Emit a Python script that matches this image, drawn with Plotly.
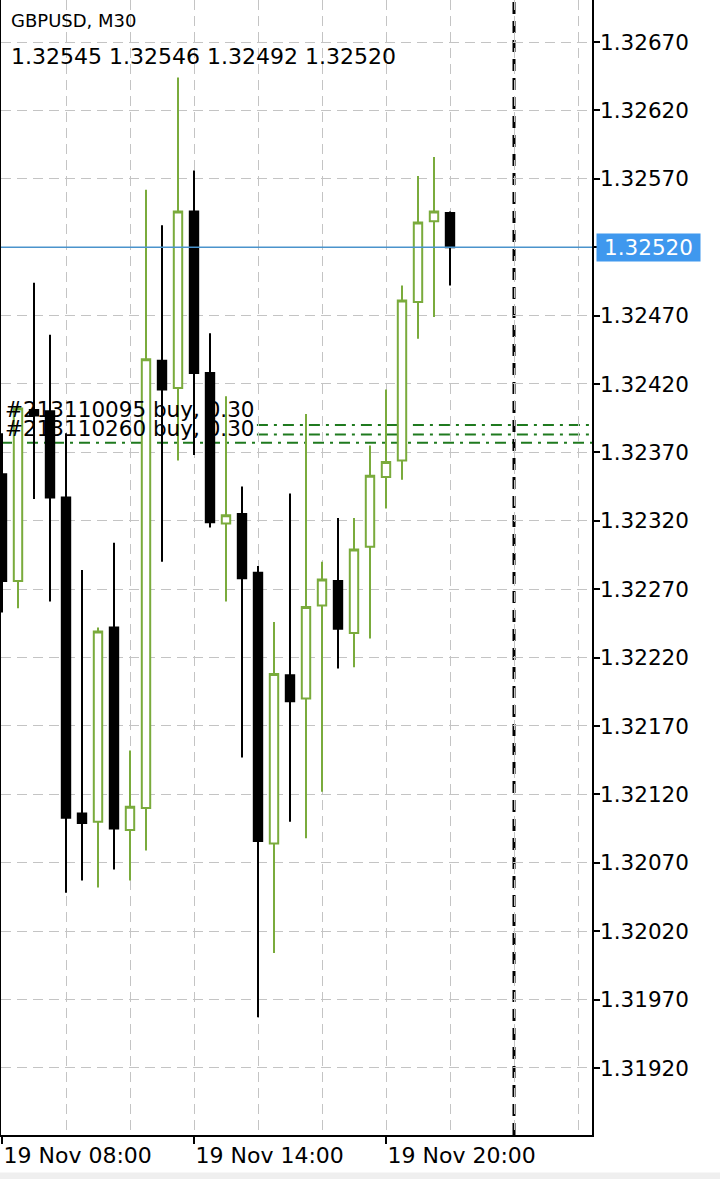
import plotly.graph_objects as go

# GBPUSD M30, bar 0 = 19 Nov 08:00, one bar every 30 minutes
bar_idx = list(range(29))
open_ = [1.32354, 1.32276, 1.32401, 1.32400, 1.32337, 1.32106, 1.32100, 1.32242, 1.32094, 1.32110,
         1.32437, 1.32417, 1.32546, 1.32428, 1.32318, 1.32325, 1.32282, 1.32084, 1.32207, 1.32190,
         1.32258, 1.32276, 1.32238, 1.32301, 1.32352, 1.32364, 1.32480, 1.32539, 1.32545]
high = [1.32384, 1.32404, 1.32494, 1.32456, 1.32384, 1.32284, 1.32242, 1.32304, 1.32152, 1.32562,
        1.32536, 1.32644, 1.32576, 1.32457, 1.32411, 1.32345, 1.32287, 1.32246, 1.32340, 1.32398,
        1.32290, 1.32322, 1.32322, 1.32375, 1.32416, 1.32492, 1.32572, 1.32586, 1.32546]
low = [1.32253, 1.32256, 1.32336, 1.32261, 1.32048, 1.32057, 1.32052, 1.32065, 1.32057, 1.32079,
       1.32290, 1.32364, 1.32368, 1.32315, 1.32261, 1.32147, 1.31957, 1.32004, 1.32100, 1.32088,
       1.32122, 1.32212, 1.32213, 1.32234, 1.32329, 1.32350, 1.32453, 1.32469, 1.32492]
close = [1.32276, 1.32402, 1.32397, 1.32337, 1.32103, 1.32099, 1.32239, 1.32095, 1.32111, 1.32438,
         1.32416, 1.32546, 1.32428, 1.32319, 1.32324, 1.32278, 1.32086, 1.32208, 1.32188, 1.32257,
         1.32277, 1.32241, 1.32299, 1.32353, 1.32363, 1.32481, 1.32538, 1.32546, 1.32520]

price_ticks = [1.31920, 1.31970, 1.32020, 1.32070, 1.32120, 1.32170, 1.32220, 1.32270,
               1.32320, 1.32370, 1.32420, 1.32470, 1.32520, 1.32570, 1.32620, 1.32670]
time_ticks = [0, 12, 24]
time_labels = ['19 Nov 08:00', '19 Nov 14:00', '19 Nov 20:00']
grid_ticks = [4, 8, 16, 20, 28, 32, 36]

bid = 1.32520
day_sep = 32
order_labels = ['#213110095 buy, 0.30', '#213110260 buy, 0.30']
order_prices = [1.32390, 1.32383]
avg_price = 1.32377

GREEN = '#7aab3c'
FONT = 'DejaVu Sans'

fig = go.Figure()

fig.add_trace(go.Candlestick(
    x=bar_idx, open=open_, high=high, low=low, close=close,
    increasing=dict(line=dict(color=GREEN, width=2), fillcolor='white'),
    decreasing=dict(line=dict(color='black', width=2), fillcolor='black'),
    whiskerwidth=0, showlegend=False, hoverinfo='skip'))

shapes = []
for p in order_prices:
    shapes.append(dict(type='line', xref='paper', x0=0.433, x1=1, yref='y', y0=p, y1=p,
                       line=dict(color='#1f7a1f', width=2, dash='11px,6px,3px,6px'),
                       layer='between'))
shapes.append(dict(type='line', xref='paper', x0=0, x1=1, yref='y', y0=avg_price, y1=avg_price,
                   line=dict(color='#1f7a1f', width=2, dash='11px,6px,3px,6px'),
                   layer='between'))
shapes.append(dict(type='line', xref='x', x0=day_sep, x1=day_sep, yref='paper', y0=0, y1=1,
                   line=dict(color='black', width=3, dash='12px,7px'), layer='between'))
shapes.append(dict(type='line', xref='paper', x0=0, x1=1, yref='y', y0=bid, y1=bid,
                   line=dict(color='#4a93cc', width=1.5), layer='above'))
shapes.append(dict(type='rect', xref='paper', x0=-0.01, x1=1.3, yref='paper', y0=-0.033, y1=-0.05,
                   fillcolor='#efefef', line=dict(width=0), layer='below'))

annotations = [
    dict(text='GBPUSD, M30', xref='paper', yref='paper', x=0, y=1, xanchor='left', yanchor='top',
         xshift=8, yshift=-8, showarrow=False, font=dict(family=FONT, size=18, color='black')),
    dict(text=' '.join(f'{v:.5f}' for v in (open_[-1], high[-1], low[-1], close[-1])),
         xref='paper', yref='paper', x=0, y=1, xanchor='left', yanchor='top',
         xshift=8, yshift=-42, showarrow=False, font=dict(family=FONT, size=22, color='black')),
    dict(text=f'{bid:.5f}', xref='paper', yref='y', x=1, y=bid, xanchor='left', yanchor='middle',
         xshift=4, showarrow=False, bgcolor='#3f98ee', width=101, height=25, borderpad=1,
         font=dict(family=FONT, size=21.5, color='white')),
]
for i, (lab, p) in enumerate(zip(order_labels, order_prices)):
    annotations.append(dict(text=lab, xref='paper', yref='paper', x=0, y=1 - (409 + 19 * i) / 1135,
                            xanchor='left', yanchor='middle', xshift=2, showarrow=False,
                            font=dict(family=FONT, size=21.5, color='black')))

fig.update_layout(
    width=720, height=1179,
    margin=dict(l=1, r=128, t=0, b=44),
    paper_bgcolor='white', plot_bgcolor='white',
    boxgap=0.25, boxgroupgap=0.3,
    shapes=shapes, annotations=annotations,
    showlegend=False,
    xaxis=dict(
        range=[-0.0625, 36.875], rangeslider=dict(visible=False),
        tickvals=time_ticks, ticktext=time_labels, ticklabelposition='outside right',
        ticks='outside', ticklen=7, tickwidth=1.5, tickcolor='black',
        tickfont=dict(family=FONT, size=22, color='black'),
        showline=True, linecolor='black', linewidth=1.5,
        showgrid=True, gridcolor='#c4c4c4', gridwidth=1, griddash='10px,6px',
        minor=dict(tickvals=grid_ticks, showgrid=True, gridcolor='#c4c4c4', gridwidth=1,
                   griddash='10px,6px', ticks=''),
        zeroline=False, fixedrange=True),
    yaxis=dict(
        side='right', range=[1.318710, 1.327007],
        tickvals=price_ticks,
        ticktext=['' if abs(v - bid) < 1e-7 else f'{v:.5f}' for v in price_ticks],
        ticks='outside', ticklen=6, tickwidth=1.5, tickcolor='black', ticklabelstandoff=-4,
        tickfont=dict(family=FONT, size=21.5, color='black'),
        showline=True, linecolor='black', linewidth=1.5, mirror=True,
        showgrid=True, gridcolor='#c4c4c4', gridwidth=1, griddash='10px,6px',
        zeroline=False, fixedrange=True),
)

fig.write_html("out.html", config={'displayModeBar': False},
               post_script="document.body.style.margin='0px';")
